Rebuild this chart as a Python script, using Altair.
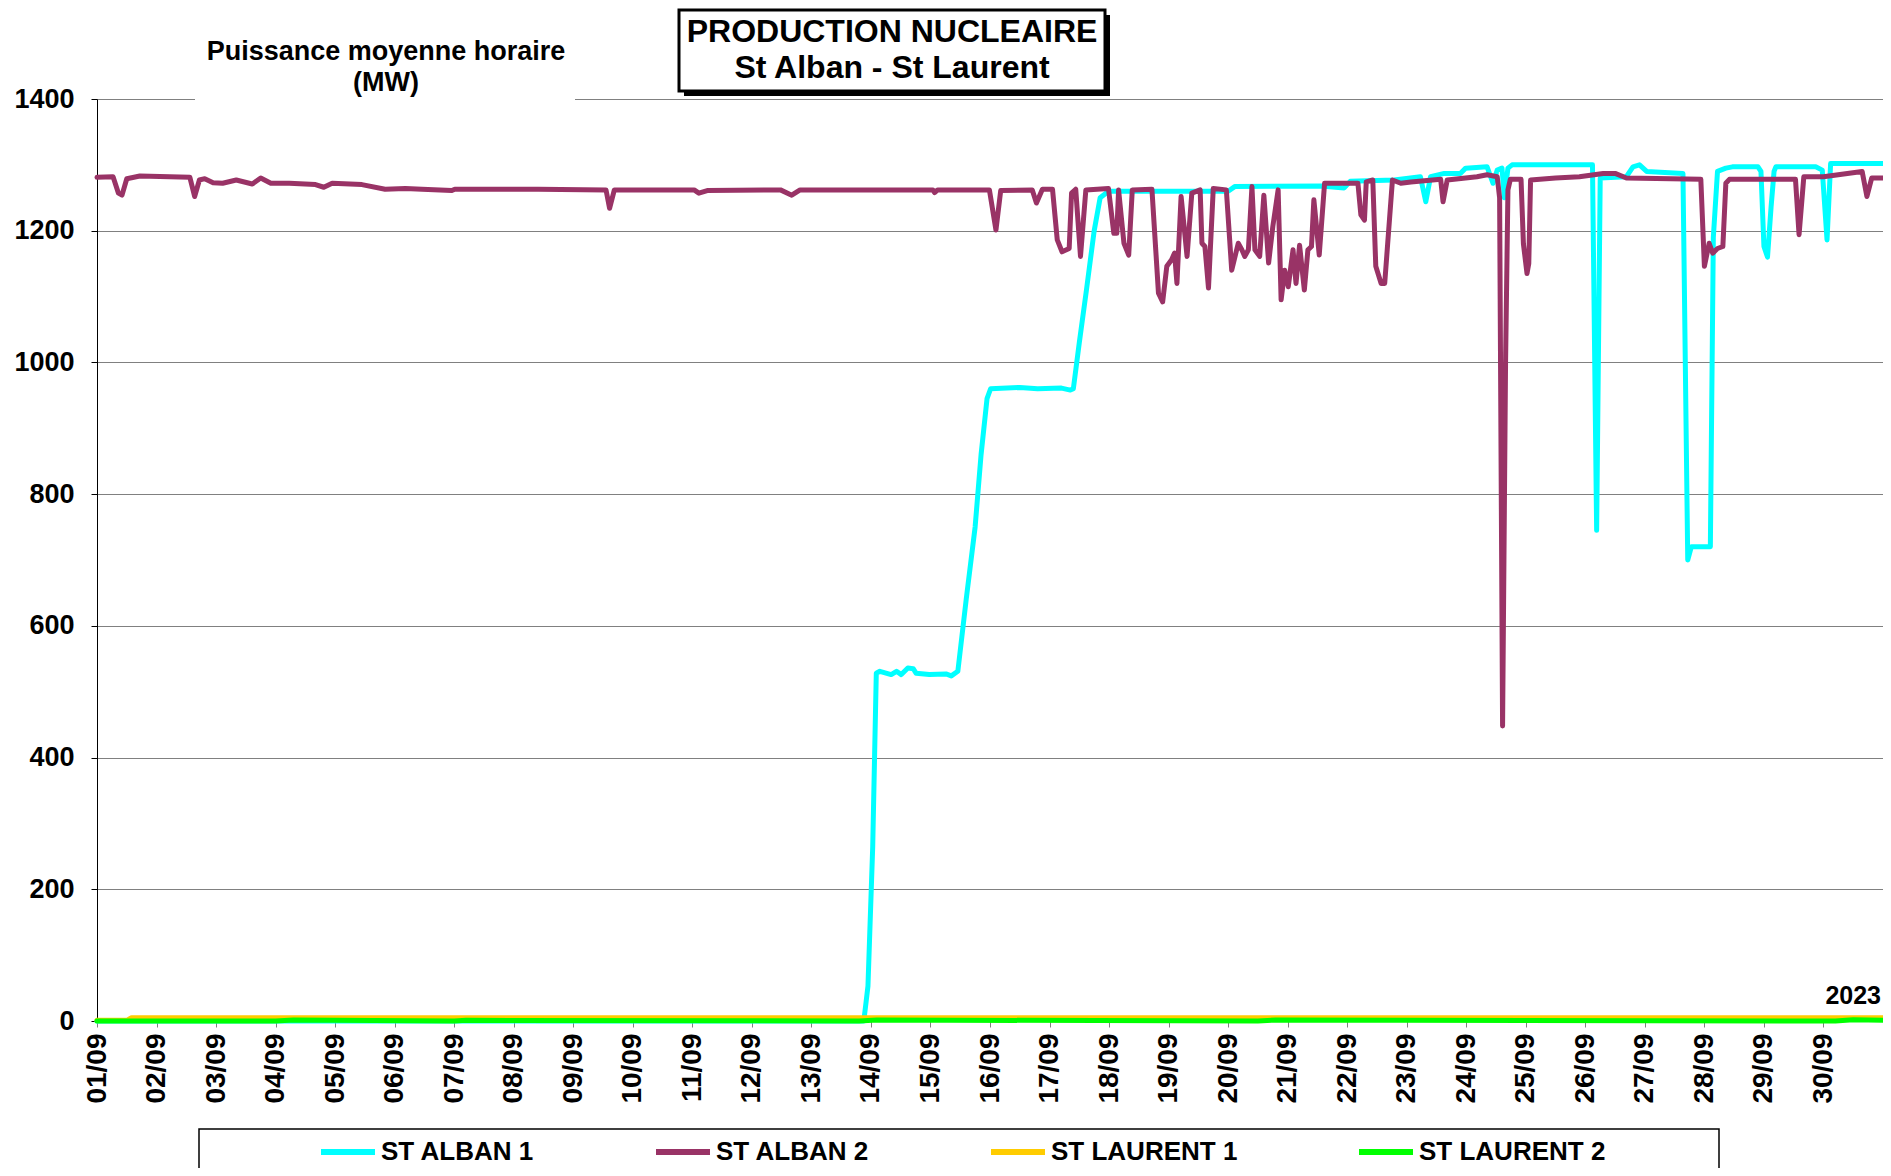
import altair as alt
import pandas as pd

# ---------------- data ----------------
SERIES = ["ST ALBAN 1", "ST ALBAN 2", "ST LAURENT 1", "ST LAURENT 2"]
COLORS = ["#00FFFF", "#993366", "#FFCC00", "#00FF00"]

DAY_LABELS = ["01/09", "02/09", "03/09", "04/09", "05/09", "06/09", "07/09", "08/09",
              "09/09", "10/09", "11/09", "12/09", "13/09", "14/09", "15/09", "16/09",
              "17/09", "18/09", "19/09", "20/09", "21/09", "22/09", "23/09", "24/09",
              "25/09", "26/09", "27/09", "28/09", "29/09", "30/09"]
Y_TICKS = [0, 200, 400, 600, 800, 1000, 1200, 1400]

# day offset since 01/09 00:00, and hourly mean power in MW
SA1_DAYS = [0, 12.88, 12.92, 12.95, 13.03, 13.09, 13.15, 13.34, 13.43, 13.51, 13.62, 13.71,
            13.76, 13.98, 14.26, 14.35, 14.46, 14.60, 14.75, 14.85, 14.95, 15.01, 15.50,
            15.80, 16.20, 16.35, 16.40, 16.50, 16.62, 16.75, 16.85, 16.99, 19.00, 19.11,
            20.56, 20.95, 21.05, 21.79, 22.23, 22.32, 22.40, 22.63, 22.90, 22.99, 23.35,
            23.45, 23.52, 23.60, 23.64, 23.70, 23.77, 25.12, 25.19, 25.25, 25.69, 25.80,
            25.91, 26.03, 26.64, 26.72, 26.78, 27.10, 27.15, 27.22, 27.36, 27.47, 27.90,
            27.95, 28.00, 28.06, 28.12, 28.17, 28.20, 28.87, 28.98, 29.06, 29.12, 30.0]
SA1_MW = [0, 0, 30, 53, 265, 528, 531, 526, 531, 526, 536, 535,
          528, 526, 527, 524, 531, 640, 750, 860, 945, 960, 962,
          960, 961, 958, 960, 1030, 1110, 1200, 1250, 1260, 1260, 1267,
          1268, 1265, 1275, 1277, 1282, 1244, 1282, 1287, 1287, 1295, 1297,
          1272, 1292, 1295, 1250, 1295, 1300, 1300, 745, 1280, 1282, 1297,
          1300, 1290, 1287, 700, 720, 720, 1190, 1290, 1295, 1297, 1297,
          1290, 1176, 1160, 1236, 1290, 1297, 1297, 1292, 1186, 1302, 1302]

SA2_DAYS = [0, 0.27, 0.36, 0.42, 0.50, 0.72, 1.56, 1.64, 1.72, 1.81, 1.95, 2.11, 2.34, 2.61,
            2.75, 2.92, 3.23, 3.67, 3.81, 3.95, 4.45, 4.84, 5.18, 5.46, 5.96, 6.01, 7.41,
            8.55, 8.61, 8.69, 10.03, 10.11, 10.25, 11.48, 11.67, 11.81, 14.04, 14.07, 14.12,
            14.99, 15.10, 15.18, 15.71, 15.78, 15.88, 16.05, 16.13, 16.21, 16.33, 16.37,
            16.44, 16.52, 16.61, 16.99, 17.08, 17.13, 17.16, 17.25, 17.33, 17.39, 17.72,
            17.83, 17.90, 17.97, 18.05, 18.10, 18.14, 18.21, 18.31, 18.39, 18.53, 18.56,
            18.61, 18.67, 18.75, 18.97, 19.06, 19.17, 19.23, 19.28, 19.34, 19.40, 19.45,
            19.53, 19.60, 19.68, 19.75, 19.84, 19.89, 19.95, 20.01, 20.09, 20.14, 20.20,
            20.28, 20.34, 20.40, 20.44, 20.53, 20.62, 21.18, 21.23, 21.29, 21.32, 21.43,
            21.48, 21.57, 21.63, 21.76, 21.90, 22.07, 22.57, 22.61, 22.68, 23.18, 23.35,
            23.52, 23.56, 23.61, 23.66, 23.70, 23.74, 23.92, 23.96, 24.02, 24.05, 24.08,
            24.50, 24.90, 25.30, 25.50, 25.69, 26.94, 27.00, 27.08, 27.14, 27.22, 27.31,
            27.36, 27.42, 28.53, 28.59, 28.67, 29.00, 29.65, 29.73, 29.81, 30.0]
SA2_MW = [1281, 1282, 1257, 1254, 1279, 1283, 1281, 1252, 1277, 1279, 1273, 1272, 1277, 1271,
          1280, 1272, 1272, 1270, 1266, 1272, 1270, 1263, 1264, 1263, 1261, 1263, 1263,
          1262, 1234, 1262, 1262, 1257, 1261, 1262, 1254, 1262, 1262, 1258, 1262,
          1262, 1201, 1261, 1262, 1242, 1263, 1263, 1186, 1168, 1173, 1257,
          1263, 1161, 1262, 1264, 1196, 1196, 1262, 1181, 1163, 1262, 1263,
          1105, 1092, 1146, 1156, 1166, 1120, 1252, 1161, 1257, 1262, 1181,
          1176, 1113, 1264, 1262, 1140, 1181, 1171, 1161, 1171, 1267, 1171,
          1161, 1254, 1151, 1206, 1262, 1095, 1140, 1115, 1171, 1120, 1178,
          1110, 1171, 1176, 1247, 1163, 1272, 1272, 1224, 1216, 1274, 1277,
          1146, 1120, 1120, 1277, 1272, 1274, 1278, 1244, 1277, 1282, 1285,
          1282, 1250, 448, 1000, 1262, 1278, 1278, 1180, 1135, 1150, 1277,
          1280, 1282, 1287, 1287, 1280, 1278, 1146, 1181, 1166, 1173, 1176,
          1272, 1278, 1278, 1194, 1282, 1282, 1290, 1252, 1280, 1280]

SL1_DAYS = [0, 0.50, 0.58, 8.0, 15.0, 22.0, 30.0]
SL1_MW = [1, 1, 5, 5, 5, 5, 5]

SL2_DAYS = [0, 3.0, 3.3, 6.0, 6.2, 12.8, 13.1, 19.5, 19.8, 29.2, 29.5, 30.0]
SL2_MW = [0, 0, 1.5, 0, 1, 0, 1.5, 0, 1.5, 0, 2, 1]

assert len(SA1_DAYS) == len(SA1_MW)
assert len(SA2_DAYS) == len(SA2_MW)

rows = []
for name, days, mws in [(SERIES[0], SA1_DAYS, SA1_MW), (SERIES[1], SA2_DAYS, SA2_MW),
                        (SERIES[2], SL1_DAYS, SL1_MW), (SERIES[3], SL2_DAYS, SL2_MW)]:
    for i, (d, v) in enumerate(zip(days, mws)):
        rows.append({"series": name, "day": d, "mw": v, "i": i})
df = pd.DataFrame(rows)

FONT = "Liberation Sans"
W, H = 1786, 922

label_expr = "[" + ",".join("'%s'" % s for s in DAY_LABELS) + "][datum.value] || ''"

x_enc = alt.X("day:Q",
              scale=alt.Scale(domain=[0, 30], nice=False, zero=False),
              axis=alt.Axis(values=list(range(31)), labelExpr=label_expr, labelAngle=270,
                            labelAlign="right", labelBaseline="middle", labelFont=FONT,
                            labelFontWeight="bold", labelFontSize=28, labelColor="black",
                            labelPadding=6, labelOverlap=False, tickColor="#808080",
                            tickSize=6, domain=False, grid=False, title=None))
y_enc = alt.Y("mw:Q",
              scale=alt.Scale(domain=[0, 1400], nice=False),
              axis=alt.Axis(values=Y_TICKS, format="d", labelFont=FONT,
                            labelFontWeight="bold", labelFontSize=27, labelColor="black",
                            labelPadding=17, grid=True, gridColor="#808080", gridWidth=1.2,
                            domainColor="black", domainWidth=1, tickColor="black",
                            tickSize=6, title=None))
legend = alt.Legend(orient="none", legendX=221, legendY=1023, direction="horizontal",
                    columns=4, title=None, symbolType="stroke", symbolSize=2916,
                    symbolStrokeWidth=6, labelFont=FONT, labelFontWeight="bold",
                    labelFontSize=26, labelColor="black", columnPadding=109,
                    labelOffset=3, gridAlign="none", padding=0, labelLimit=400)
color_enc = alt.Color("series:N", scale=alt.Scale(domain=SERIES, range=COLORS),
                      legend=legend)

layers = []
for s in SERIES:
    layers.append(
        alt.Chart(df).transform_filter(alt.datum.series == s)
        .mark_line(strokeWidth=5, strokeCap="round", strokeJoin="round")
        .encode(x=x_enc, y=y_enc, color=color_enc, order="i:Q")
    )

one = pd.DataFrame({"k": [0]})

# white patch behind the axis caption (interrupts the top gridline)
caption_bg = alt.Chart(one).mark_rect(fill="white").encode(
    x=alt.value(98), x2=alt.value(478), y=alt.value(-70), y2=alt.value(4))
caption1 = alt.Chart(one).mark_text(font=FONT, fontWeight="bold", fontSize=27,
                                    color="black", align="center", baseline="middle").encode(
    x=alt.value(289), y=alt.value(-47), text=alt.value("Puissance moyenne horaire"))
caption2 = alt.Chart(one).mark_text(font=FONT, fontWeight="bold", fontSize=27,
                                    color="black", align="center", baseline="middle").encode(
    x=alt.value(289), y=alt.value(-16), text=alt.value("(MW)"))

# title box with shadow
shadow = alt.Chart(one).mark_rect(fill="black").encode(
    x=alt.value(587), x2=alt.value(1013), y=alt.value(-84), y2=alt.value(-3))
box = alt.Chart(one).mark_rect(fill="white", stroke="black", strokeWidth=3).encode(
    x=alt.value(582), x2=alt.value(1008), y=alt.value(-89), y2=alt.value(-8))
title1 = alt.Chart(one).mark_text(font=FONT, fontWeight="bold", fontSize=32,
                                  color="black", align="center", baseline="middle").encode(
    x=alt.value(795), y=alt.value(-67), text=alt.value("PRODUCTION NUCLEAIRE"))
title2 = alt.Chart(one).mark_text(font=FONT, fontWeight="bold", fontSize=32,
                                  color="black", align="center", baseline="middle").encode(
    x=alt.value(795), y=alt.value(-31), text=alt.value("St Alban - St Laurent"))

year = alt.Chart(one).mark_text(font=FONT, fontWeight="bold", fontSize=25,
                                color="black", align="right", baseline="middle").encode(
    x=alt.value(1784), y=alt.value(897), text=alt.value("2023"))

legend_frame = alt.Chart(one).mark_rect(fill="transparent", stroke="black",
                                        strokeWidth=1.5).encode(
    x=alt.value(102), x2=alt.value(1622), y=alt.value(1030), y2=alt.value(1120))

chart = alt.layer(*layers, caption_bg, caption1, caption2, shadow, box, title1, title2,
                  year, legend_frame).properties(
    width=W, height=H,
    autosize=alt.AutoSizeParams(type="none"),
    padding={"left": 89, "top": 91, "right": 0, "bottom": 147},
).configure_view(stroke=None).configure(background="white")

chart.save("out.html", embed_options={"renderer": "svg", "actions": False})
